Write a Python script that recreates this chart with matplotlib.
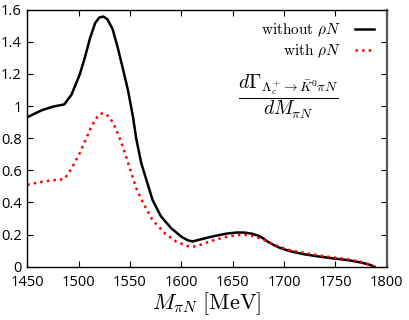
import matplotlib
matplotlib.use("Agg")
import matplotlib.pyplot as plt

plt.rcParams['mathtext.fontset'] = 'cm'
plt.rcParams['font.family'] = ['Open Sans', 'DejaVu Sans']

m_without = [1450, 1458, 1465, 1475, 1486, 1493, 1501, 1506, 1511, 1516, 1520, 1524,
             1528, 1533, 1538, 1543, 1548, 1553, 1556, 1561, 1566, 1572, 1580, 1590,
             1600, 1606, 1611, 1617, 1627, 1634, 1645, 1655, 1662,
             1669, 1676, 1680, 1684, 1690, 1695, 1702, 1708, 1720, 1732, 1745, 1763,
             1775, 1784, 1788]
g_without = [0.93, 0.955, 0.976, 0.996, 1.01, 1.07, 1.195, 1.30, 1.42, 1.515, 1.55, 1.557,
             1.54, 1.48, 1.365, 1.235, 1.10, 0.93, 0.80, 0.644, 0.54, 0.415, 0.315, 0.24,
             0.187, 0.165, 0.157, 0.167, 0.183, 0.193, 0.207, 0.213, 0.212,
             0.205, 0.19, 0.175, 0.156, 0.135, 0.12, 0.104, 0.093, 0.077, 0.065, 0.054, 0.04,
             0.026, 0.011, 0.0]

m_with = [1450, 1465, 1475, 1486, 1491, 1496, 1501, 1506, 1511, 1516, 1520, 1524,
          1530, 1535, 1540, 1545, 1550, 1556, 1563, 1572, 1584, 1595, 1606, 1612,
          1617, 1627, 1634, 1645, 1655, 1663, 1669, 1676, 1684,
          1690, 1695, 1702, 1708, 1720, 1732, 1745, 1763, 1775, 1784, 1788]
g_with = [0.51, 0.529, 0.538, 0.545, 0.59, 0.644, 0.706, 0.778, 0.851, 0.913, 0.948, 0.956,
          0.934, 0.875, 0.80, 0.71, 0.61, 0.49, 0.395, 0.29, 0.208, 0.156, 0.129, 0.125,
          0.133, 0.155, 0.17, 0.187, 0.197, 0.198, 0.192, 0.178, 0.156,
          0.138, 0.125, 0.11, 0.1, 0.085, 0.072, 0.06, 0.045, 0.03, 0.012, 0.0]

xticks = [1450, 1500, 1550, 1600, 1650, 1700, 1750, 1800]
yticks = [0, 0.2, 0.4, 0.6, 0.8, 1, 1.2, 1.4, 1.6]
ytick_labels = ['0', '0.2', '0.4', '0.6', '0.8', '1', '1.2', '1.4', '1.6']

fig = plt.figure(figsize=(4.09, 3.2), dpi=100)
ax = fig.add_axes([0.0667, 0.1666, 0.8788, 0.8034])

ax.plot(m_without, g_without, color='black', lw=1.8, solid_joinstyle='round',
        label=r'$\mathrm{without}\ \rho N$')
ax.plot(m_with, g_with, color='red', lw=1.8, ls=':', label=r'$\mathrm{with}\ \rho N$')

ax.set_xlim(1450, 1800)
ax.set_ylim(0, 1.6)
ax.set_xticks(xticks)
ax.set_yticks(yticks)
ax.set_yticklabels(ytick_labels)
ax.tick_params(direction='in', top=True, right=True, length=4, labelsize=10.5, pad=4)
ax.tick_params(axis='x', pad=6)
for s in ax.spines.values():
    s.set_linewidth(1.0)
ax.spines['right'].set_color('#555555')
ax.spines['right'].set_linewidth(1.6)

ax.set_xlabel(r'$M_{\pi N}\ [\mathrm{MeV}]$', fontsize=16, labelpad=0)

leg = ax.legend(loc='upper right', frameon=False, markerfirst=False, fontsize=11,
                handlelength=1.3, handletextpad=0.9, borderaxespad=0.4, labelspacing=0.2)

ax.text(0.728, 0.66, r'$\dfrac{d\Gamma_{\Lambda_c^+\!\to\bar{K}^0\pi N}}{dM_{\pi N}}$',
        transform=ax.transAxes, ha='center', va='center', fontsize=14)

fig.savefig('out.png', dpi=100)
